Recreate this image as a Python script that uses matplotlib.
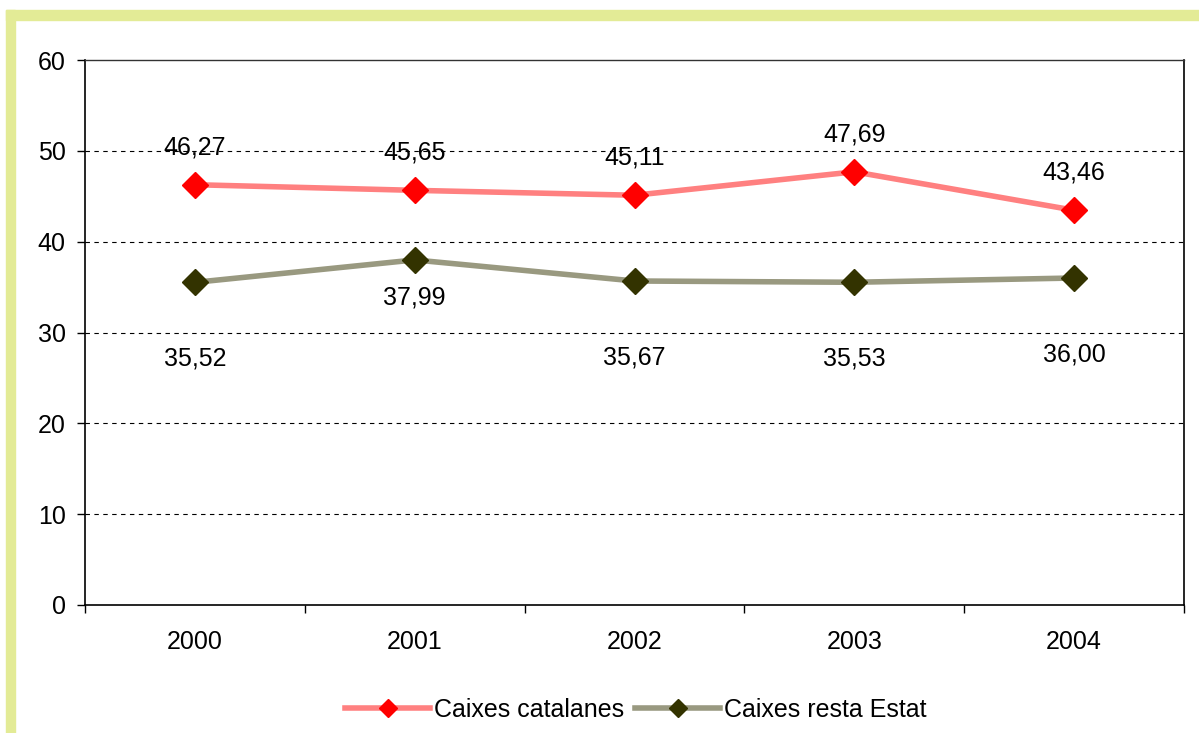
import matplotlib
matplotlib.use("Agg")
import matplotlib.pyplot as plt
from matplotlib.patches import Rectangle
from matplotlib.lines import Line2D

years = ["2000", "2001", "2002", "2003", "2004"]
catalanes = [46.27, 45.65, 45.11, 47.69, 43.46]
resta = [35.52, 37.99, 35.67, 35.53, 36.00]
cat_labels = ["46,27", "45,65", "45,11", "47,69", "43,46"]
resta_labels = ["35,52", "37,99", "35,67", "35,53", "36,00"]
yticks = [0, 10, 20, 30, 40, 50, 60]

plt.rcParams['font.family'] = ['Liberation Sans', 'DejaVu Sans']
FS = 18

fig = plt.figure(figsize=(11.99, 7.33), dpi=100)
W, H = 1199, 733

# yellow-green frame
band = '#E3EB96'
fig.patches.append(Rectangle((6 / W, 1 - 20 / H), 1 - 6 / W, 10 / H,
                             transform=fig.transFigure, color=band, zorder=0))
fig.patches.append(Rectangle((6 / W, 0), 9 / W, 1 - 10 / H,
                             transform=fig.transFigure, color=band, zorder=0))

ax = fig.add_axes([85 / W, 1 - 605 / H, (1184 - 85) / W, (605 - 60) / H])
x = list(range(len(years)))

ax.set_xlim(-0.5, len(years) - 0.5)
ax.set_ylim(0, 60)
ax.set_yticks(yticks)
ax.set_yticklabels([str(v) for v in yticks], fontsize=FS)
ax.tick_params(axis='y', direction='out', length=6, width=1, pad=8)

ax.set_xticks(x)
ax.set_xticklabels(years, fontsize=FS)
ax.tick_params(axis='x', which='major', length=0, pad=18)
ax.set_xticks([i - 0.5 for i in range(len(years) + 1)], minor=True)
ax.tick_params(axis='x', which='minor', direction='out', length=6, width=1)

for v in yticks[1:-1]:
    ax.axhline(v, color='black', lw=0.8, ls=(0, (4, 4)), zorder=1)

for s in ['left', 'bottom', 'right']:
    ax.spines[s].set_color('black')
    ax.spines[s].set_linewidth(1.2)
ax.spines['top'].set_color('#333333')
ax.spines['top'].set_linewidth(1.0)

ax.plot(x, catalanes, color='#FF8080', lw=4, marker='D', ms=13,
        mfc='#FF0000', mec='#FF0000', zorder=3, label='Caixes catalanes')
ax.plot(x, resta, color='#999980', lw=4, marker='D', ms=13,
        mfc='#333300', mec='#333300', zorder=3, label='Caixes resta Estat')

for xi, v, t in zip(x, catalanes, cat_labels):
    ax.annotate(t, (xi, v), xytext=(0, 27), textcoords='offset points',
                ha='center', va='center', fontsize=FS, zorder=4)
for i, (xi, v, t) in enumerate(zip(x, resta, resta_labels)):
    off = -27 if i == 1 else -55
    ax.annotate(t, (xi, v), xytext=(0, off), textcoords='offset points',
                ha='center', va='center', fontsize=FS, zorder=4)

handles = [
    Line2D([], [], color='#FF8080', lw=4, marker='D', ms=9.5,
           mfc='#FF0000', mec='#FF0000'),
    Line2D([], [], color='#999980', lw=4, marker='D', ms=9.5,
           mfc='#333300', mec='#333300'),
]
fig.legend(handles, ['Caixes catalanes', 'Caixes resta Estat'],
           loc='center', bbox_to_anchor=(636 / W, 1 - 710 / H), ncol=2,
           frameon=False, fontsize=FS, handlelength=3.4, handletextpad=0.15,
           columnspacing=0.45, borderpad=0)

fig.savefig('out.png', dpi=100)
